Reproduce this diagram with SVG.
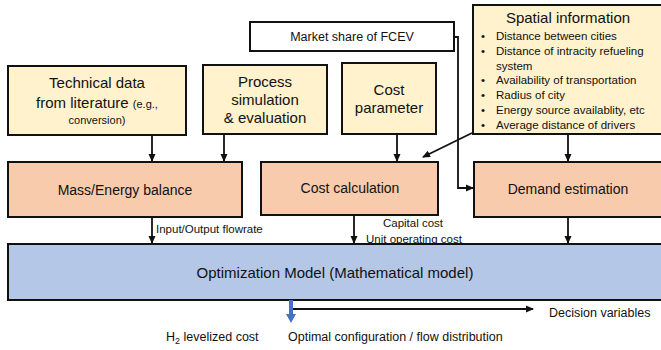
<svg xmlns="http://www.w3.org/2000/svg" width="661" height="350" viewBox="0 0 661 350">
<defs>
<style>
text{font-family:"Liberation Sans",Arial,sans-serif;fill:#111}
.y{fill:#FFF2CC;stroke:#111;stroke-width:2}
.o{fill:#F8CBAD;stroke:#111;stroke-width:2}
.b{fill:#B4C7E7;stroke:#111;stroke-width:2}
.w{fill:#fff;stroke:#111;stroke-width:2}
.t{font-size:15px;text-anchor:middle}
.m{font-size:14px;text-anchor:middle}
.s{font-size:11.5px}
.l{stroke:#111;stroke-width:1.8;fill:none}
</style>
<marker id="ah" markerWidth="8" markerHeight="8" refX="7" refY="4" orient="auto" markerUnits="userSpaceOnUse">
<path d="M0,0.5 L8,4 L0,7.5 Z" fill="#111"/>
</marker>
</defs>
<rect width="661" height="350" fill="#fff"/>

<g id="tech">
<rect class="y" x="8" y="66" width="178" height="69"/>
<text class="t" x="97" y="88">Technical data</text>
<text x="97" y="108" text-anchor="middle"><tspan font-size="15px">from literature </tspan><tspan font-size="11px">(e.g.,</tspan></text>
<text x="97" y="124" text-anchor="middle" font-size="11px">conversion)</text>
</g>
<g id="process">
<rect class="y" x="203" y="65" width="124" height="69"/>
<text class="t" x="265" y="87">Process</text>
<text class="t" x="265" y="105">simulation</text>
<text class="t" x="265" y="123">&amp; evaluation</text>
</g>
<g id="market">
<rect class="w" x="250" y="22" width="204" height="29"/>
<text x="352" y="41" font-size="12.5px" text-anchor="middle">Market share of FCEV</text>
</g>
<g id="costparam">
<rect class="y" x="342" y="63" width="94" height="71"/>
<text class="t" x="389" y="95">Cost</text>
<text class="t" x="389" y="113">parameter</text>
</g>
<g id="spatial">
<rect class="y" x="473" y="5" width="192" height="129"/>
<text class="t" x="568" y="23">Spatial information</text>
<g font-size="11.5px">
<text x="481" y="39.5">•</text><text x="496" y="39.5">Distance between cities</text>
<text x="481" y="54.5">•</text><text x="496" y="54.5">Distance of intracity refueling</text>
<text x="496" y="69.5">system</text>
<text x="481" y="84">•</text><text x="496" y="84">Availability of transportation</text>
<text x="481" y="99">•</text><text x="496" y="99">Radius of city</text>
<text x="481" y="114">•</text><text x="496" y="114">Energy source availablity, etc</text>
<text x="481" y="129">•</text><text x="496" y="129">Average distance of drivers</text>
</g>
</g>
<g id="mass">
<rect class="o" x="8" y="162" width="234" height="55"/>
<text class="m" x="125" y="195">Mass/Energy balance</text>
</g>
<g id="costcalc">
<rect class="o" x="261" y="162" width="177" height="53"/>
<text class="m" x="350" y="193">Cost calculation</text>
</g>
<g id="demand">
<rect class="o" x="474" y="162" width="191" height="55"/>
<text class="m" x="568" y="194">Demand estimation</text>
</g>
<g id="opt">
<rect class="b" x="8" y="244" width="657" height="56"/>
<text class="t" x="335" y="278">Optimization Model (Mathematical model)</text>
</g>

<g id="connectors">
<line class="l" x1="152" y1="135" x2="152" y2="161" marker-end="url(#ah)"/>
<line class="l" x1="224" y1="134" x2="224" y2="161" marker-end="url(#ah)"/>
<line class="l" x1="397" y1="134" x2="397" y2="161" marker-end="url(#ah)"/>
<line class="l" x1="472" y1="133" x2="423" y2="157" marker-end="url(#ah)"/>
<line class="l" x1="568" y1="134" x2="568" y2="161" marker-end="url(#ah)"/>
<polyline class="l" points="454,37 458,37 458,188 473,188" marker-end="url(#ah)"/>
<line class="l" x1="152" y1="217" x2="152" y2="243" marker-end="url(#ah)"/>
<line class="l" x1="354" y1="215" x2="354" y2="243" marker-end="url(#ah)"/>
<line class="l" x1="568" y1="217" x2="568" y2="243" marker-end="url(#ah)"/>
<line class="l" x1="291" y1="309" x2="533" y2="309" marker-end="url(#ah)"/>
<path d="M289,300 L293,300 L293,314 L296,314 L291,323 L286,314 L289,314 Z" fill="#4472C4"/>
</g>

<g id="labels">
<text class="s" x="156" y="233">Input/Output flowrate</text>
<text class="s" x="413" y="227" text-anchor="middle">Capital cost</text>
<text class="s" x="366" y="243">Unit operating cost</text>
<text x="549" y="317" font-size="12.5px">Decision variables</text>
<text x="166" y="341" font-size="12.5px">H<tspan font-size="9px" dy="3">2</tspan><tspan dy="-3"> levelized cost</tspan></text>
<text x="288" y="341" font-size="12.5px">Optimal configuration / flow distribution</text>
</g>
</svg>
